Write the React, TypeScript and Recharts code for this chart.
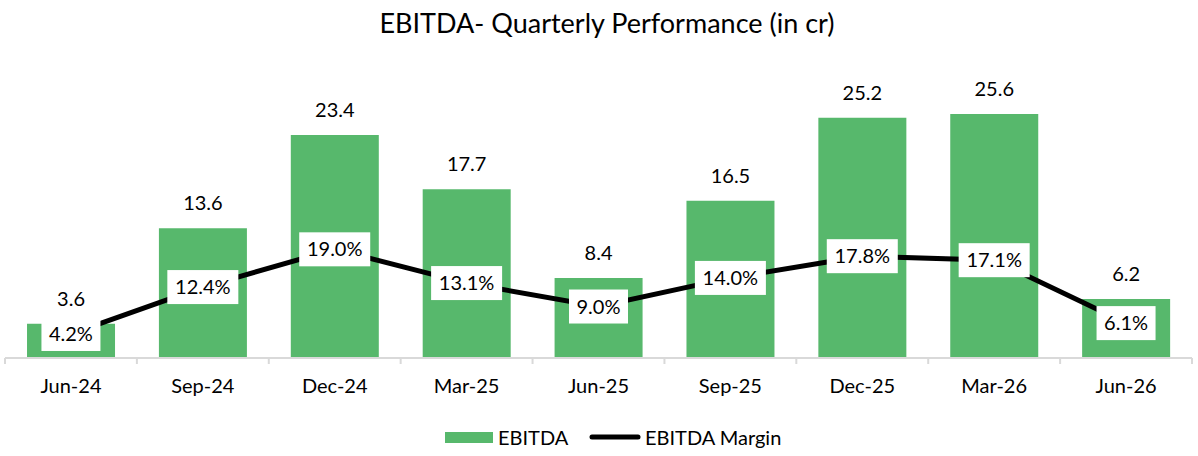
import { ComposedChart, Bar, Line, XAxis, YAxis, LabelList } from 'recharts';

const periods = ['Jun-24', 'Sep-24', 'Dec-24', 'Mar-25', 'Jun-25', 'Sep-25', 'Dec-25', 'Mar-26', 'Jun-26'];
const ebitda = [3.6, 13.6, 23.4, 17.7, 8.4, 16.5, 25.2, 25.6, 6.2];
const ebitdaMargin = [4.2, 12.4, 19.0, 13.1, 9.0, 14.0, 17.8, 17.1, 6.1];

const FONT = 'Lato, "Open Sans", sans-serif';
const GREEN = '#57B86C';
const AXIS_GREY = '#D9D9D9';

const chartData = periods.map((period, i) => ({
  period,
  ebitda: ebitda[i],
  margin: ebitdaMargin[i],
}));

function CategoryTick(props: any) {
  const { x, y, payload, index } = props;
  const half = payload.offset ?? 0;
  const isLast = index === periods.length - 1;
  return (
    <g>
      <line x1={x - half} x2={x - half} y1={y} y2={y + 6} stroke={AXIS_GREY} strokeWidth={2} />
      {isLast && <line x1={x + half} x2={x + half} y1={y} y2={y + 6} stroke={AXIS_GREY} strokeWidth={2} />}
      <text x={x} y={y + 35} textAnchor="middle" fontSize={20} fontFamily={FONT} fill="#000">
        {payload.value}
      </text>
    </g>
  );
}

function MarginLabel(props: any) {
  const { x, y, value } = props;
  const text = `${Number(value).toFixed(1)}%`;
  const w = text.length * 12 + 11;
  const h = 34;
  return (
    <g>
      <rect x={x - w / 2} y={y - h / 2} width={w} height={h} fill="#fff" />
      <text x={x} y={y + 7} textAnchor="middle" fontSize={20} fontFamily={FONT} fill="#000">
        {text}
      </text>
    </g>
  );
}

export default function App() {
  return (
    <div style={{ position: 'absolute', left: 0, top: 0, width: 1198, height: 456, background: '#fff' }}>
      <ComposedChart
        width={1198}
        height={456}
        data={chartData}
        margin={{ top: 72, right: 6, left: 5, bottom: 0 }}
        barCategoryGap="16.7%"
      >
        <XAxis
          dataKey="period"
          height={98}
          tickSize={0}
          tickMargin={0}
          tickLine={false}
          axisLine={{ stroke: AXIS_GREY, strokeWidth: 2 }}
          tick={<CategoryTick />}
          interval={0}
        />
        <YAxis yAxisId="left" domain={[0, 30]} hide />
        <YAxis yAxisId="right" orientation="right" domain={[0, 50]} hide />
        <Bar yAxisId="left" dataKey="ebitda" fill={GREEN} isAnimationActive={false}>
          <LabelList
            dataKey="ebitda"
            position="top"
            offset={18}
            style={{ fontSize: 20, fontFamily: FONT, fill: '#000' }}
            formatter={(v: any) => Number(v).toFixed(1)}
          />
        </Bar>
        <Line
          yAxisId="right"
          type="linear"
          dataKey="margin"
          stroke="#000"
          strokeWidth={5}
          dot={false}
          isAnimationActive={false}
        >
          <LabelList dataKey="margin" content={<MarginLabel />} />
        </Line>
      </ComposedChart>
      <svg
        width={1198}
        height={456}
        style={{ position: 'absolute', left: 0, top: 0, pointerEvents: 'none' }}
      >
        <text x={607} y={33} textAnchor="middle" fontSize={27} fontFamily={FONT} fill="#000">
          EBITDA- Quarterly Performance (in cr)
        </text>
        <rect x={445} y={432} width={48} height={11} fill={GREEN} />
        <text x={498} y={445} fontSize={20} fontFamily={FONT} fill="#000">
          EBITDA
        </text>
        <line x1={592} x2={638} y1={437} y2={437} stroke="#000" strokeWidth={5} strokeLinecap="round" />
        <text x={645} y={445} fontSize={20} fontFamily={FONT} fill="#000">
          EBITDA Margin
        </text>
      </svg>
    </div>
  );
}
